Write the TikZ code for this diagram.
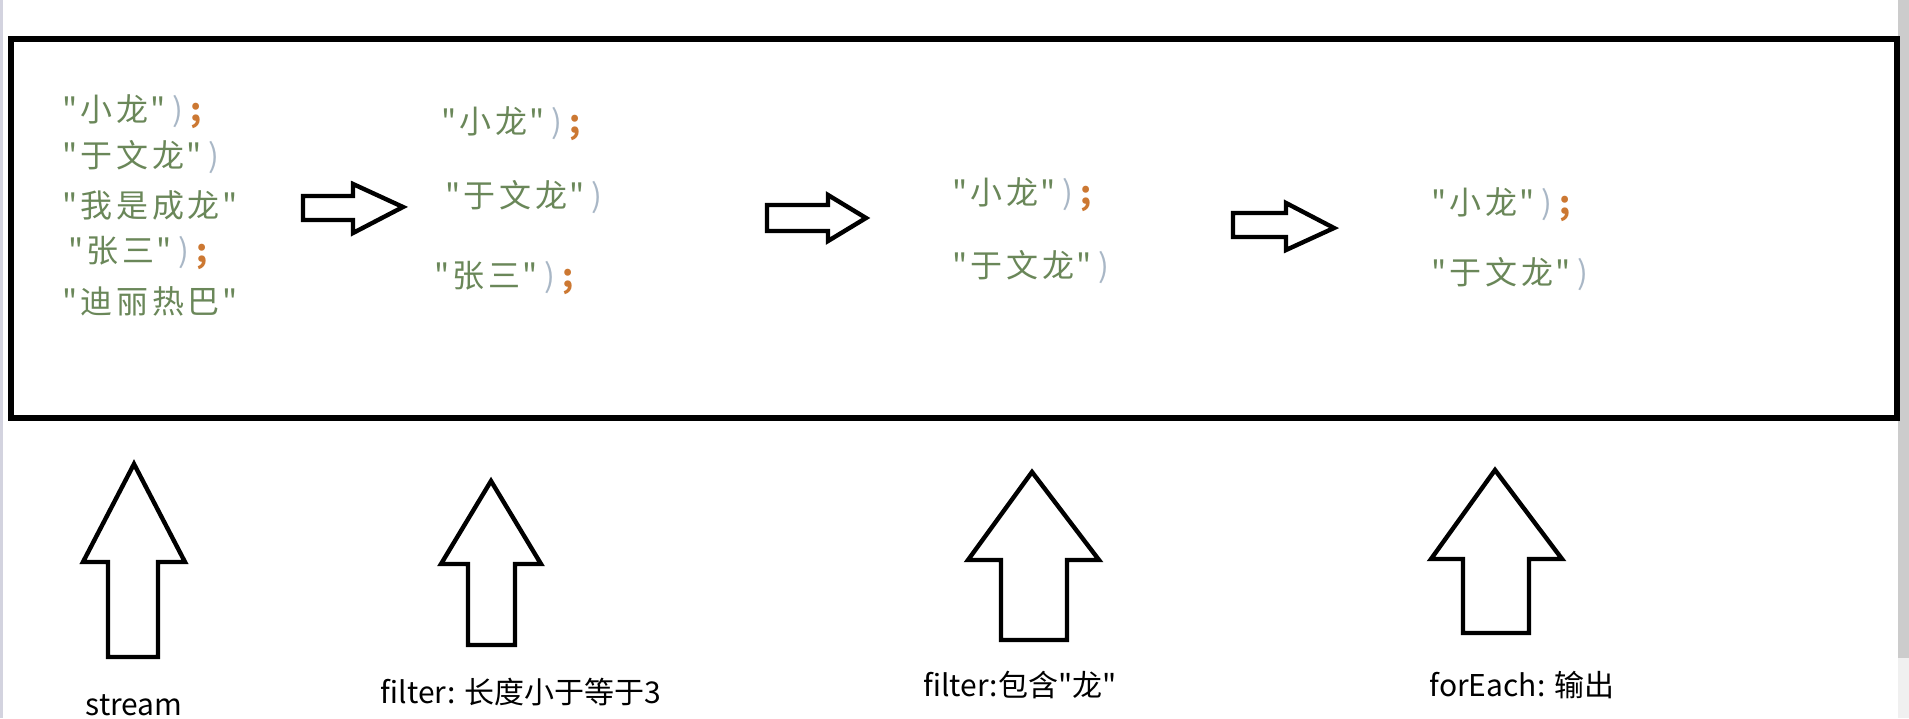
\documentclass[tikz,border=0pt]{standalone}
\usepackage{fontspec}
\setmainfont{Noto Sans CJK SC}
\newfontfamily\cjkfont{Noto Sans CJK SC}
\newfontfamily\codefont[LetterSpace=12]{Noto Sans CJK SC}
\usepackage{xcolor}
\usepackage{tikz}

\definecolor{strgreen}{HTML}{6A8759}
\definecolor{parengrey}{HTML}{A9B7C6}
\definecolor{semiorange}{HTML}{CC7832}
% one code cell per ascii char
\newcommand{\cell}[1]{\makebox[10pt]{#1}}
\newcommand{\jstr}[1]{\textcolor{strgreen}{\cell{"}#1\cell{"}}}
\newcommand{\rp}{\textcolor{parengrey}{\cell{)}}}
\newcommand{\semi}{\textcolor{semiorange}{\cell{\textbf{;}}}}

\begin{document}
\begin{tikzpicture}[x=0.5pt, y=-0.5pt,
    code/.style={anchor=west, inner sep=0pt, font=\codefont\fontsize{16}{18}\selectfont},
    lbl/.style={inner sep=0pt, font=\cjkfont\fontsize{15}{17}\selectfont},
    blockarrow/.style={draw, line width=2.2pt, fill=white}]

    \useasboundingbox (0,0) rectangle (1909,718);
    % window edges
    \fill[blue!15!gray!30] (0,0) rectangle (3,718);
    \fill[gray!40] (1898,0) rectangle (1909,658);
    \fill[gray!12] (1898,658) rectangle (1909,718);

    % frame
    \draw[line width=2.6pt] (11,39) rectangle (1897,418);

    % source
    \node[code] (s1) at (60,112) {\jstr{小龙}\rp\semi};
    \node[code] (s2) at (60,157) {\jstr{于文龙}\rp};
    \node[code] (s3) at (60,205) {\jstr{我是成龙}};
    \node[code] (s4) at (66,253) {\jstr{张三}\rp\semi};
    \node[code] (s5) at (60,301) {\jstr{迪丽热巴}};

    % after first filter
    \node[code] (f1) at (439,124) {\jstr{小龙}\rp\semi};
    \node[code] (f2) at (443,197) {\jstr{于文龙}\rp};
    \node[code] (f3) at (432,278) {\jstr{张三}\rp\semi};

    % after second filter
    \node[code] (g1) at (950,195) {\jstr{小龙}\rp\semi};
    \node[code] (g2) at (950,267) {\jstr{于文龙}\rp};

    % output
    \node[code] (o1) at (1429,205) {\jstr{小龙}\rp\semi};
    \node[code] (o2) at (1429,274) {\jstr{于文龙}\rp};

    % right arrows
    \draw[blockarrow] (303,196) -- (353,196) -- (353,184) -- (403,207) -- (353,233) -- (353,220) -- (303,220) -- cycle;
    \draw[blockarrow] (767,205) -- (828,205) -- (828,195) -- (866,218) -- (828,241) -- (828,231) -- (767,231) -- cycle;
    \draw[blockarrow] (1233,213) -- (1286,213) -- (1286,203) -- (1334,228) -- (1286,250) -- (1286,237) -- (1233,237) -- cycle;

    % up arrows
    \draw[blockarrow] (108,657) -- (108,562) -- (83,562) -- (134,464) -- (185,562) -- (158,562) -- (158,657) -- cycle;
    \draw[blockarrow] (468,645) -- (468,564) -- (441,564) -- (491,481) -- (541,564) -- (515,564) -- (515,645) -- cycle;
    \draw[blockarrow] (1001,640) -- (1001,560) -- (968,560) -- (1032,472) -- (1099,560) -- (1067,560) -- (1067,640) -- cycle;
    \draw[blockarrow] (1463,633) -- (1463,559) -- (1431,559) -- (1495,470) -- (1562,559) -- (1529,559) -- (1529,633) -- cycle;

    % operation labels
    \node[lbl] (stream) at (134,705) {stream};
    \node[lbl] (filterlen) at (521,692) {filter: 长度小于等于3};
    \node[lbl] (filterlong) at (1020,685) {filter:包含"龙"};
    \node[lbl] (foreach) at (1522,685) {forEach: 输出};
\end{tikzpicture}
\end{document}
